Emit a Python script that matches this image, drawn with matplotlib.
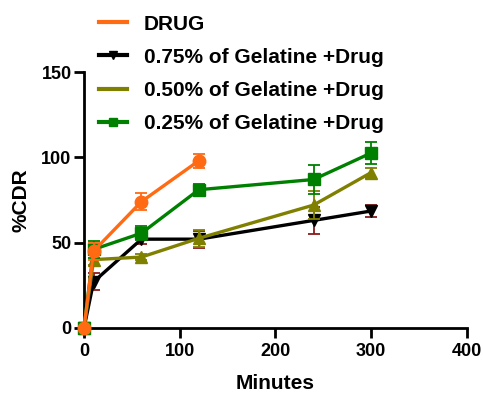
import matplotlib
matplotlib.use("Agg")
from matplotlib import pyplot as plt
from matplotlib.lines import Line2D

plt.rcParams['font.family'] = ['Liberation Sans', 'DejaVu Sans']
plt.rcParams['font.weight'] = 'bold'

# Time points (minutes)
t_drug = [0, 10, 60, 120]
t_gel = [0, 10, 60, 120, 240, 300]

# %CDR means and errors
drug = [0, 45, 74, 98]
drug_err = [0, 5, 5, 4]
gel075 = [0, 27, 52, 52, 63, 68.5]
gel075_err = [0, 5, 3, 5, 8, 3.5]
gel050 = [0, 40, 41.5, 52.5, 72, 91]
gel050_err = [0, 3, 2, 5, 8, 3]
gel025 = [0, 46, 55.5, 81, 87, 102.5]
gel025_err = [0, 5, 4, 3.5, 8.5, 6.5]

labels = ['DRUG', '0.75% of Gelatine +Drug', '0.50% of Gelatine +Drug',
          '0.25% of Gelatine +Drug']
c_drug = '#FF6A13'
c_075 = 'black'
c_050 = '#808000'
c_025 = '#008000'

fig = plt.figure(figsize=(4.83, 3.94), dpi=100)
ax = fig.add_axes([0.174, 0.168, 0.792, 0.649])

lw = 2.4
kw = dict(elinewidth=1.3, capsize=4, capthick=1.3, clip_on=False, linewidth=lw)

ax.errorbar(t_gel, gel075, yerr=gel075_err, color=c_075, ecolor='#8B1A1A',
            marker='v', markersize=8, zorder=3, **kw)
ax.errorbar(t_gel, gel050, yerr=gel050_err, color=c_050, ecolor=c_050,
            marker='^', markersize=8, zorder=4, **kw)
ax.errorbar(t_gel, gel025, yerr=gel025_err, color=c_025, ecolor=c_025,
            marker='s', markersize=8, zorder=5, **kw)
ax.errorbar(t_drug, drug, yerr=drug_err, color=c_drug, ecolor=c_drug,
            marker='o', markersize=9, zorder=6, **kw)
for art in ax.get_children():
    try:
        art.set_clip_on(False)
    except Exception:
        pass

ax.set_xlim(0, 400)
ax.set_ylim(0, 150)
ax.set_xticks([0, 100, 200, 300, 400])
ax.set_yticks([0, 50, 100, 150])
for s in ['top', 'right']:
    ax.spines[s].set_visible(False)
for s in ['left', 'bottom']:
    ax.spines[s].set_linewidth(2)
ax.tick_params(width=2, length=7, labelsize=13)
ax.tick_params(axis='x', pad=4)
ax.tick_params(axis='y', pad=2)
for lab in ax.get_xticklabels() + ax.get_yticklabels():
    lab.set_fontweight('bold')
ax.set_xlabel('Minutes', fontsize=15, fontweight='bold', labelpad=10)
ax.set_ylabel('%CDR', fontsize=15, fontweight='bold', labelpad=8)

handles = [
    Line2D([], [], color=c_drug, linewidth=3),
    Line2D([], [], color=c_075, linewidth=3, marker='v', markersize=6),
    Line2D([], [], color=c_050, linewidth=3),
    Line2D([], [], color=c_025, linewidth=3, marker='s', markersize=6),
]
fig.legend(handles, labels, loc='upper left', bbox_to_anchor=(0.175, 1.0),
           frameon=False, prop={'size': 15, 'weight': 'bold'},
           handlelength=1.35, handletextpad=0.8, labelspacing=0.68,
           borderaxespad=0.3)

fig.savefig('out.png', dpi=100)
